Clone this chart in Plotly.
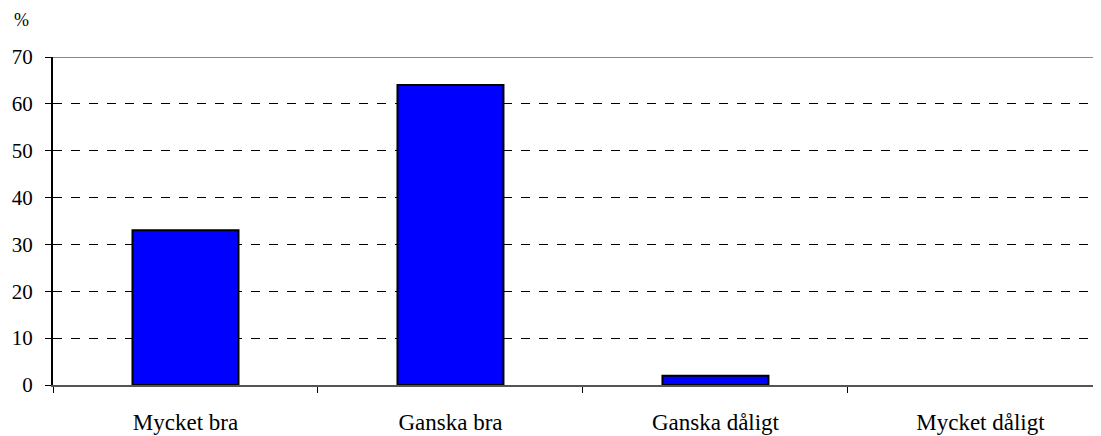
import plotly.graph_objects as go

categories = ["Mycket bra", "Ganska bra", "Ganska dåligt", "Mycket dåligt"]
values = [33, 64, 2, 0]
y_ticks = [0, 10, 20, 30, 40, 50, 60, 70]

FONT = "Liberation Serif"

fig = go.Figure()
fig.add_trace(go.Bar(
    x=categories, y=values,
    marker=dict(color="#0000FF", line=dict(color="black", width=[2 if v > 0 else 0 for v in values])),
    width=0.4,
))

fig.update_layout(
    width=1093, height=428,
    margin=dict(l=45, r=0, t=49, b=51),
    paper_bgcolor="white", plot_bgcolor="white",
    font=dict(family=FONT, size=20, color="black"),
    showlegend=False,
    xaxis=dict(
        type="category",
        range=[-0.5, 3.455],
        tickson="boundaries",
        ticks="outside", ticklen=6, tickcolor="black", tickwidth=1,
        showline=True, linecolor="#555555", linewidth=1.5,
        showgrid=False,
        automargin=False,
        ticklabelstandoff=16,
        tickfont=dict(family=FONT, size=23),
    ),
    yaxis=dict(
        range=[0, 70],
        tickvals=y_ticks,
        ticks="outside", ticklen=6, tickcolor="black",
        showline=True, linecolor="black", linewidth=2,
        showgrid=True, gridcolor="black", griddash="dash", gridwidth=1,
        zeroline=False,
        automargin=False,
        ticklabelstandoff=8,
        tickfont=dict(family=FONT, size=21),
    ),
    shapes=[dict(type="line", xref="paper", yref="y", x0=0, x1=1, y0=70, y1=70,
                 line=dict(color="#888888", width=2))],
    annotations=[dict(text="%", xref="paper", yref="paper", x=-0.0296, y=1.0,
                      yshift=37, xanchor="center", yanchor="middle", showarrow=False,
                      font=dict(family=FONT, size=18))],
)

fig.write_html("out.html")
